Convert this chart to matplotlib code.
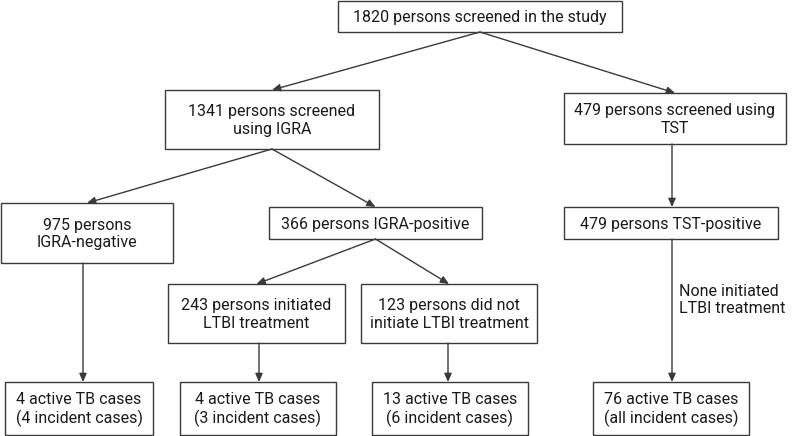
import matplotlib.pyplot as plt
from matplotlib.patches import Rectangle

# box texts (the data of this flowchart)
labels = [
    "1820 persons screened in the study",
    "1341 persons screened\nusing IGRA",
    "479 persons screened using\nTST",
    "975 persons\nIGRA-negative",
    "366 persons IGRA-positive",
    "479 persons TST-positive",
    "243 persons initiated\nLTBI treatment",
    "123 persons did not\ninitiate LTBI treatment",
    "4 active TB cases\n(4 incident cases)",
    "4 active TB cases\n(3 incident cases)",
    "13 active TB cases\n(6 incident cases)",
    "76 active TB cases\n(all incident cases)",
]
side_note = "None initiated\nLTBI treatment"

# layout: left, top, right, bottom in pixels
boxes = [
    (338, 1, 622, 32),
    (165, 90, 379, 149),
    (564, 93, 786, 144),
    (1, 203, 173, 263),
    (269, 207, 482, 239),
    (564, 207, 778, 239),
    (168, 284, 345, 343),
    (361, 284, 537, 343),
    (5, 382, 153, 435),
    (180, 382, 336, 435),
    (372, 382, 528, 435),
    (593, 382, 749, 435),
]

# arrows: (from box, to box)
links = [(0, 1), (0, 2), (1, 3), (1, 4), (2, 5), (4, 6), (4, 7),
         (3, 8), (6, 9), (7, 10), (5, 11)]

line_col = "#3a3a3a"
plt.rcParams['font.family'] = ['Roboto', 'DejaVu Sans']

fig = plt.figure(figsize=(7.94, 4.36), dpi=100)
ax = fig.add_axes([0, 0, 1, 1])
ax.set_xlim(0, 794)
ax.set_ylim(436, 0)
ax.axis('off')

for (l, t, r, b), txt in zip(boxes, labels):
    ax.add_patch(Rectangle((l, t), r - l, b - t, fill=False, edgecolor=line_col, lw=1.0))
    ax.text((l + r) / 2, (t + b) / 2 + 1, txt, ha='center', va='center',
            fontsize=11.5, color='#1a1a1a', linespacing=1.2)

def center_x(i):
    return (boxes[i][0] + boxes[i][2]) / 2

# vertical arrows where boxes are stacked use a shared x
straight_x = {(3, 8): 83, (6, 9): 259, (7, 10): 448, (5, 11): 672, (2, 5): 672}

for a, b in links:
    if (a, b) in straight_x:
        xa = xb = straight_x[(a, b)]
    else:
        xa, xb = center_x(a), center_x(b)
    ya, yb = boxes[a][3], boxes[b][1]
    ax.annotate("", xy=(xb, yb), xytext=(xa, ya),
                arrowprops=dict(arrowstyle='-|>,head_length=0.5,head_width=0.22',
                                color=line_col, lw=1.0, shrinkA=0, shrinkB=0))

ax.text(679, 300, side_note, ha='left', va='center', fontsize=11.5,
        color='#1a1a1a', linespacing=1.2)

fig.savefig('out.png', dpi=100)
